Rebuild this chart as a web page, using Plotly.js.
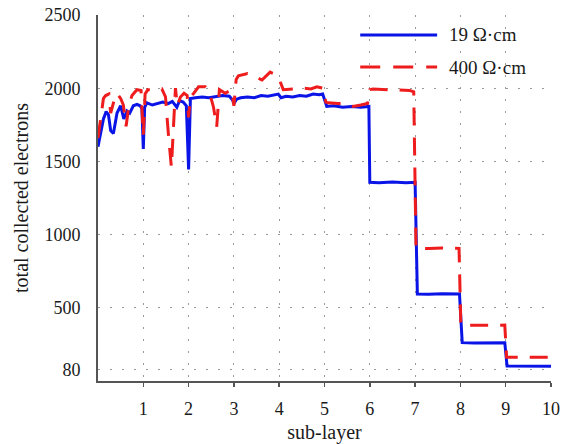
<!DOCTYPE html>
<html>
<head>
<meta charset="utf-8">
<script src="https://cdn.plot.ly/plotly-3.0.1.min.js"></script>
<style>html,body{margin:0;padding:0;background:#fff;}#chart{width:564px;height:444px;}</style>
</head>
<body>
<div id="chart"></div>
<script>
// ---- data ----
const seriesNames = ["19 \u03A9\u00B7cm", "400 \u03A9\u00B7cm"];

const xLow = [0, 0.05, 0.12, 0.18, 0.23, 0.28, 0.34, 0.42, 0.5, 0.57, 0.64, 0.7, 0.78, 0.86, 0.93, 0.97, 1.0, 1.03, 1.08, 1.2, 1.3, 1.43, 1.55, 1.64, 1.74, 1.8, 1.88, 1.95, 2.0, 2.04, 2.15, 2.3, 2.45, 2.6, 2.75, 2.9, 2.97, 3.0, 3.06, 3.15, 3.3, 3.45, 3.6, 3.75, 3.9, 3.98, 4.04, 4.15, 4.3, 4.45, 4.6, 4.75, 4.88, 4.96, 5.05, 5.2, 5.4, 5.6, 5.8, 5.98, 6.0, 6.2, 6.5, 6.8, 7.0, 7.05, 7.3, 7.6, 7.98, 8.04, 8.3, 8.6, 8.98, 9.03, 9.4, 9.7, 10];
const yLow = [1600, 1680, 1790, 1840, 1820, 1710, 1690, 1830, 1880, 1790, 1845, 1830, 1880, 1890, 1880, 1860, 1585, 1870, 1900, 1885, 1895, 1905, 1895, 1910, 1870, 1915, 1905, 1880, 1445, 1930, 1935, 1940, 1935, 1945, 1950, 1945, 1920, 1895, 1925, 1935, 1940, 1935, 1950, 1945, 1955, 1960, 1935, 1945, 1940, 1950, 1945, 1960, 1955, 1960, 1875, 1880, 1870, 1875, 1870, 1875, 1357, 1355, 1360, 1355, 1357, 594, 592, 596, 594, 262, 260, 262, 262, 102, 100, 102, 100];

const xHigh = [0, 0.06, 0.12, 0.17, 0.24, 0.28, 0.35, 0.42, 0.5, 0.56, 0.62, 0.68, 0.75, 0.86, 0.95, 1.0, 1.04, 1.1, 1.25, 1.41, 1.49, 1.55, 1.62, 1.66, 1.71, 1.75, 1.82, 1.9, 1.97, 2.0, 2.04, 2.1, 2.22, 2.37, 2.45, 2.55, 2.62, 2.68, 2.81, 2.95, 3.0, 3.05, 3.1, 3.3, 3.45, 3.62, 3.8, 3.95, 4.02, 4.09, 4.3, 4.53, 4.7, 4.83, 4.97, 5.03, 5.08, 5.3, 5.49, 5.63, 5.8, 5.95, 6.0, 6.07, 6.4, 6.88, 6.97, 7.02, 7.3, 7.6, 7.97, 8.01, 8.4, 8.7, 8.98, 9.02, 9.4, 9.7, 10];
const yHigh = [1660, 1800, 1930, 1950, 1960, 1830, 1910, 1965, 1930, 1885, 1740, 1880, 1950, 1990, 1985, 1680, 1960, 1990, 1985, 1995, 1940, 1700, 1460, 1700, 2000, 1880, 1940, 1965, 1950, 1800, 1940, 1960, 2010, 2010, 1985, 1870, 1735, 1990, 1965, 1990, 1880, 2060, 2085, 2100, 2080, 2056, 2110, 2090, 2045, 1990, 1995, 2000, 1995, 2010, 2000, 1905, 1900, 1895, 1897, 1875, 1885, 1895, 1990, 1995, 1990, 1985, 1975, 906, 905, 908, 906, 382, 380, 383, 382, 162, 160, 163, 162];

const xTicks = [1, 2, 3, 4, 5, 6, 7, 8, 9, 10];
const yTicks = [80, 500, 1000, 1500, 2000, 2500];
const yTickText = ["80", "500", "1000", "1500", "2000", "2500"];

const blue = "#0a14e6";
const red = "#ee1c1c";
const font = "Liberation Serif, Times New Roman, serif";

const traces = [
  {x: xLow, y: yLow, type: "scatter", mode: "lines", name: seriesNames[0],
   line: {color: blue, width: 3}, showlegend: false},
  {x: xHigh, y: yHigh, type: "scatter", mode: "lines", name: seriesNames[1],
   line: {color: red, width: 3, dash: "18px,12px"}, showlegend: false}
];

// legend drawn manually (long sample lines as in the reference)
function px2x(px){ return (px - 97.5) / 453.5; }
function py2y(py){ return (381 - py) / 366; }

const layout = {
  width: 564, height: 444,
  margin: {l: 97.5, r: 13, t: 15, b: 63},
  paper_bgcolor: "#fff", plot_bgcolor: "#fff",
  font: {family: font, size: 18, color: "#1a1a1a"},
  xaxis: {
    range: [0, 10], tickvals: xTicks, ticktext: xTicks.map(String),
    showline: true, linecolor: "#555", linewidth: 2, mirror: false,
    ticks: "outside", ticklen: 4, tickcolor: "#555", tickwidth: 1.5,
    showgrid: true, gridcolor: "#9a9a9a", gridwidth: 1, griddash: "2px,10px",
    zeroline: false, ticklabelstandoff: 6,
    title: {text: "sub-layer", font: {family: font, size: 20, color: "#1a1a1a"}, standoff: 8}
  },
  yaxis: {
    range: [0, 2500], tickvals: yTicks, ticktext: yTickText,
    showline: true, linecolor: "#555", linewidth: 2, mirror: false,
    ticks: "", showgrid: true, gridcolor: "#9a9a9a", gridwidth: 1, griddash: "2px,10px",
    zeroline: false, ticklabelstandoff: 12,
    title: {text: "total collected electrons", font: {family: font, size: 20, color: "#1a1a1a"}, standoff: 10}
  },
  shapes: [
    {type: "rect", xref: "paper", yref: "paper", x0: px2x(345), x1: px2x(546), y0: py2y(82), y1: 1.0,
     fillcolor: "#fff", line: {width: 0}, layer: "between"},
    {type: "line", xref: "paper", yref: "paper", x0: px2x(360), x1: px2x(437), y0: py2y(35), y1: py2y(35),
     line: {color: blue, width: 3}},
    {type: "line", xref: "paper", yref: "paper", x0: px2x(360), x1: px2x(437), y0: py2y(67), y1: py2y(67),
     line: {color: red, width: 3, dash: "20px,13px"}}
  ],
  annotations: [
    {xref: "paper", yref: "paper", x: px2x(447), y: py2y(35), xanchor: "left", yanchor: "middle",
     text: seriesNames[0], showarrow: false, font: {family: font, size: 19, color: "#1a1a1a"}},
    {xref: "paper", yref: "paper", x: px2x(447), y: py2y(67), xanchor: "left", yanchor: "middle",
     text: seriesNames[1], showarrow: false, font: {family: font, size: 19, color: "#1a1a1a"}}
  ]
};

Plotly.newPlot("chart", traces, layout, {displayModeBar: false, staticPlot: true});
</script>
</body>
</html>
